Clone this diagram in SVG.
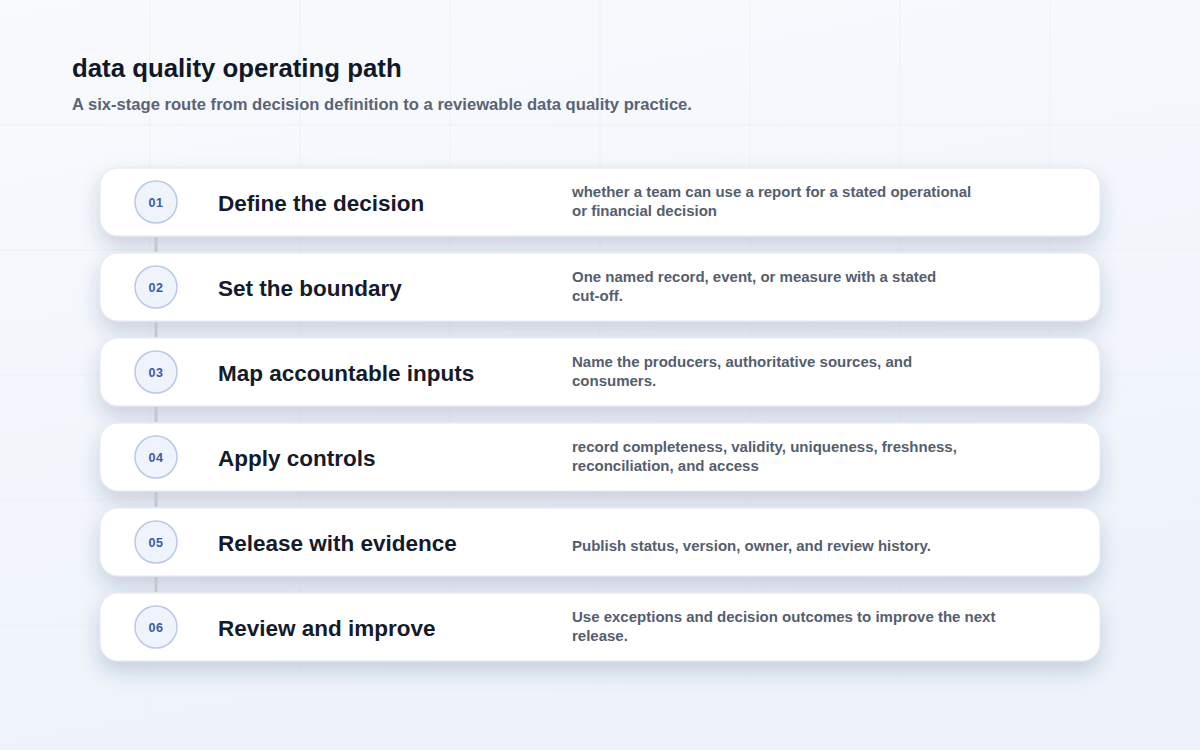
<svg xmlns="http://www.w3.org/2000/svg" width="1200" height="750" viewBox="0 0 1200 750">
  <defs>
    <linearGradient id="bg" x1="0" y1="0" x2="0.3" y2="1">
      <stop offset="0" stop-color="#f8fafd"/>
      <stop offset="1" stop-color="#eef3fb"/>
    </linearGradient>
    <filter id="shadow" x="-5%" y="-30%" width="110%" height="170%">
      <feDropShadow dx="0" dy="10" stdDeviation="10" flood-color="#2a3a66" flood-opacity="0.2"/>
    </filter>
    <style>
      .grid { stroke: #edf1f7; stroke-width: 1; }
      .card { fill: #ffffff; stroke: #e2e6ee; stroke-width: 1; }
      .badge { fill: #eef3fc; stroke: #b9c9e6; stroke-width: 1.5; }
      .num { font-family: "Liberation Sans", Arial, sans-serif; font-size: 12.5px; font-weight: 700; fill: #3a5aa6; text-anchor: middle; letter-spacing: 0.5px; }
      .title { font-family: "Liberation Sans", Arial, sans-serif; font-size: 22.5px; font-weight: 700; fill: #141b2b; }
      .desc { font-family: "Liberation Sans", Arial, sans-serif; font-size: 15px; font-weight: 700; fill: #555e6e; }
      .link { stroke: #c3c7cf; stroke-width: 3; }
      .h1 { font-family: "Liberation Sans", Arial, sans-serif; font-size: 25.8px; font-weight: 700; fill: #111827; }
      .sub { font-family: "Liberation Sans", Arial, sans-serif; font-size: 16.6px; font-weight: 700; fill: #5b6475; }
    </style>
  </defs>

  <rect x="0" y="0" width="1200" height="750" fill="url(#bg)"/>
  <g id="grid">
    <line class="grid" x1="150" y1="0" x2="150" y2="750"/>
    <line class="grid" x1="300" y1="0" x2="300" y2="750"/>
    <line class="grid" x1="450" y1="0" x2="450" y2="750"/>
    <line class="grid" x1="600" y1="0" x2="600" y2="750"/>
    <line class="grid" x1="750" y1="0" x2="750" y2="750"/>
    <line class="grid" x1="900" y1="0" x2="900" y2="750"/>
    <line class="grid" x1="1050" y1="0" x2="1050" y2="750"/>
    <line class="grid" x1="0" y1="125" x2="1200" y2="125"/>
    <line class="grid" x1="0" y1="250" x2="1200" y2="250"/>
    <line class="grid" x1="0" y1="375" x2="1200" y2="375"/>
    <line class="grid" x1="0" y1="500" x2="1200" y2="500"/>
    <line class="grid" x1="0" y1="625" x2="1200" y2="625"/>
  </g>

  <g id="header">
    <text class="h1" x="72" y="77">data quality operating path</text>
    <text class="sub" x="72" y="110">A six-stage route from decision definition to a reviewable data quality practice.</text>
  </g>

  <g id="cards" filter="url(#shadow)">
    <rect class="card" x="100" y="168" width="1000" height="68" rx="18"/>
    <rect class="card" x="100" y="253" width="1000" height="68" rx="18"/>
    <rect class="card" x="100" y="338" width="1000" height="68" rx="18"/>
    <rect class="card" x="100" y="423" width="1000" height="68" rx="18"/>
    <rect class="card" x="100" y="508" width="1000" height="68" rx="18"/>
    <rect class="card" x="100" y="593" width="1000" height="68" rx="18"/>
  </g>

  <g id="connectors">
    <line class="link" x1="156" y1="237" x2="156" y2="252"/>
    <line class="link" x1="156" y1="322" x2="156" y2="337"/>
    <line class="link" x1="156" y1="407" x2="156" y2="422"/>
    <line class="link" x1="156" y1="492" x2="156" y2="507"/>
    <line class="link" x1="156" y1="577" x2="156" y2="592"/>
  </g>

  <g id="step-01">
    <circle class="badge" cx="156" cy="202" r="21"/>
    <text class="num" x="156" y="206.5">01</text>
    <text class="title" x="218" y="211">Define the decision</text>
    <text class="desc" x="572" y="197">whether a team can use a report for a stated operational</text>
    <text class="desc" x="572" y="216">or financial decision</text>
  </g>
  <g id="step-02">
    <circle class="badge" cx="156" cy="287" r="21"/>
    <text class="num" x="156" y="291.5">02</text>
    <text class="title" x="218" y="296">Set the boundary</text>
    <text class="desc" x="572" y="282">One named record, event, or measure with a stated</text>
    <text class="desc" x="572" y="301">cut-off.</text>
  </g>
  <g id="step-03">
    <circle class="badge" cx="156" cy="372" r="21"/>
    <text class="num" x="156" y="376.5">03</text>
    <text class="title" x="218" y="381">Map accountable inputs</text>
    <text class="desc" x="572" y="367">Name the producers, authoritative sources, and</text>
    <text class="desc" x="572" y="386">consumers.</text>
  </g>
  <g id="step-04">
    <circle class="badge" cx="156" cy="457" r="21"/>
    <text class="num" x="156" y="461.5">04</text>
    <text class="title" x="218" y="466">Apply controls</text>
    <text class="desc" x="572" y="452">record completeness, validity, uniqueness, freshness,</text>
    <text class="desc" x="572" y="471">reconciliation, and access</text>
  </g>
  <g id="step-05">
    <circle class="badge" cx="156" cy="542" r="21"/>
    <text class="num" x="156" y="546.5">05</text>
    <text class="title" x="218" y="551">Release with evidence</text>
    <text class="desc" x="572" y="551">Publish status, version, owner, and review history.</text>
  </g>
  <g id="step-06">
    <circle class="badge" cx="156" cy="627" r="21"/>
    <text class="num" x="156" y="631.5">06</text>
    <text class="title" x="218" y="636">Review and improve</text>
    <text class="desc" x="572" y="622">Use exceptions and decision outcomes to improve the next</text>
    <text class="desc" x="572" y="641">release.</text>
  </g>
</svg>
